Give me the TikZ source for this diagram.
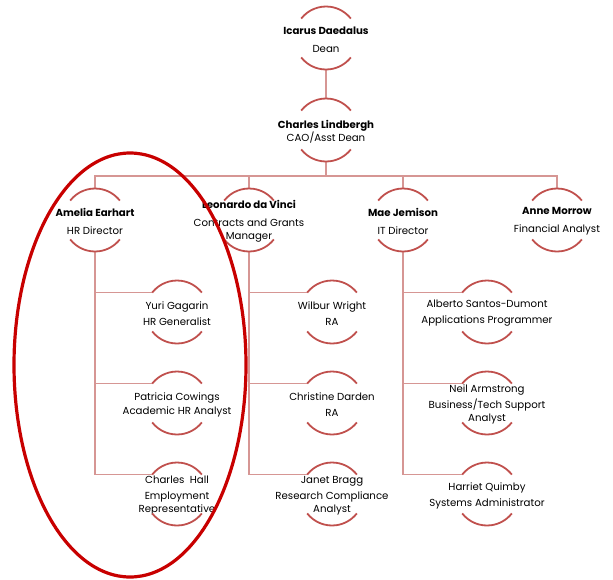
\documentclass[tikz,border=0pt]{standalone}
\usepackage{fontspec}
\setmainfont{Poppins}
\definecolor{arcred}{RGB}{192,80,77}
\definecolor{linkred}{RGB}{214,150,148}
\definecolor{ringred}{RGB}{200,0,0}
\begin{document}
\begin{tikzpicture}[x=1pt,y=1pt,
  pcirc/.style={circle,minimum size=63pt,inner sep=0pt,outer sep=0pt,draw=none},
  ptext/.style={align=center,font=\fontsize{10.2}{13}\selectfont,inner sep=0pt,yshift=-1.5pt},
  arcline/.style={draw=arcred,line width=1.8pt},
  link/.style={draw=linkred,line width=1.5pt},
  ring/.style={draw=ringred,line width=3.2pt}]
\useasboundingbox (0,0) rectangle (613,-579);

% circles (invisible frames of the nodes)
\node[pcirc] (icarus)    at (326,-38)  {};
\node[pcirc] (lindbergh) at (326,-130) {};
\node[pcirc] (amelia)    at (95,-220)  {};
\node[pcirc] (davinci)   at (249,-220) {};
\node[pcirc] (jemison)   at (403,-220) {};
\node[pcirc] (morrow)    at (557,-220) {};
\node[pcirc] (gagarin)   at (177,-312) {};
\node[pcirc] (cowings)   at (177,-403) {};
\node[pcirc] (hall)      at (177,-494) {};
\node[pcirc] (wright)    at (332,-312) {};
\node[pcirc] (darden)    at (332,-403) {};
\node[pcirc] (bragg)     at (332,-494) {};
\node[pcirc] (santos)    at (487,-312) {};
\node[pcirc] (armstrong) at (487,-403) {};
\node[pcirc] (quimby)    at (487,-494) {};

% texts
\node[ptext] (icarus-t)    at (icarus)    {\textbf{Icarus Daedalus}\\[5pt]Dean};
\node[ptext] (lindbergh-t) at (lindbergh) {\textbf{Charles Lindbergh}\\CAO/Asst Dean};
\node[ptext] (amelia-t)    at (amelia)    {\textbf{Amelia Earhart}\\[5pt]HR Director};
\node[ptext] (davinci-t)   at (davinci)   {\textbf{Leonardo da Vinci}\\[5pt]Contracts and Grants\\Manager};
\node[ptext] (jemison-t)   at (jemison)   {\textbf{Mae Jemison}\\[5pt]IT Director};
\node[ptext] (morrow-t)    at (morrow)    {\textbf{Anne Morrow}\\[5pt]Financial Analyst};
\node[ptext] (gagarin-t)   at (gagarin)   {Yuri Gagarin\\[3pt]HR Generalist};
\node[ptext] (cowings-t)   at (cowings)   {Patricia Cowings\\[1pt]Academic HR Analyst};
\node[ptext] (hall-t)      at (hall)      {Charles~ Hall\\[3pt]Employment\\Representative};
\node[ptext] (wright-t)    at (wright)    {Wilbur Wright\\[3pt]RA};
\node[ptext] (darden-t)    at (darden)    {Christine Darden\\[3pt]RA};
\node[ptext] (bragg-t)     at (bragg)     {Janet Bragg\\[3pt]Research Compliance\\Analyst};
\node[ptext] (santos-t)    at (santos)    {Alberto Santos-Dumont\\[3pt]Applications Programmer};
\node[ptext] (armstrong-t) at (armstrong) {Neil Armstrong\\[3pt]Business/Tech Support\\Analyst};
\node[ptext] (quimby-t)    at (quimby)    {Harriet Quimby\\[3pt]Systems Administrator};

% connectors
\coordinate (bus) at (326,-176);
\draw[link] (icarus.south) -- (lindbergh.north);
\draw[link] (lindbergh.south) -- (bus);
\draw[link] (amelia.north) |- (bus) -| (morrow.north);
\draw[link] (davinci.north) -- (davinci.north |- bus);
\draw[link] (jemison.north) -- (jemison.north |- bus);
\foreach \p/\a/\b/\c in {amelia/gagarin/cowings/hall, davinci/wright/darden/bragg, jemison/santos/armstrong/quimby}{
  \draw[link] (\p.south) |- (\c.142);
  \draw[link] (\p.south |- \a.142) -- (\a.142);
  \draw[link] (\p.south |- \b.142) -- (\b.142);
}

% arcs
\foreach \n in {icarus,lindbergh,amelia,davinci,jemison,morrow,gagarin,cowings,hall,wright,darden,bragg,santos,armstrong,quimby}{
  \draw[arcline] (\n.142) arc[start angle=142,end angle=38,radius=31.5];
  \draw[arcline] (\n.-142) arc[start angle=-142,end angle=-38,radius=31.5];
}

% highlight ring
\draw[ring] (130,-365) ellipse[x radius=116, y radius=212];
\end{tikzpicture}
\end{document}
